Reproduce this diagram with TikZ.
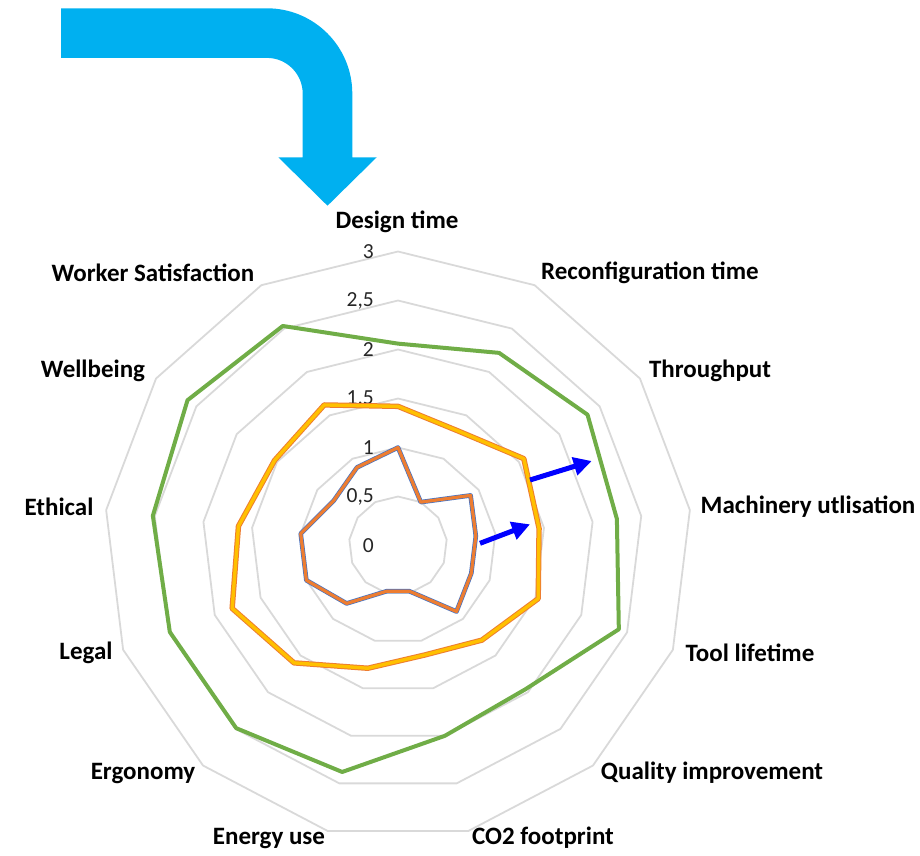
\documentclass[tikz,border=0pt]{standalone}
\usepackage{fontspec}
\setmainfont{Carlito}
\usetikzlibrary{arrows.meta}

\definecolor{gridgray}{HTML}{D9D9D9}
\definecolor{exgreen}{HTML}{70AD47}
\definecolor{exorange}{HTML}{ED7D31}
\definecolor{exblue}{HTML}{4472C4}
\definecolor{exyellow}{HTML}{FFC000}
\definecolor{bendcyan}{HTML}{00B0F0}
\definecolor{pureblue}{HTML}{0000FF}
\definecolor{ticktext}{HTML}{262626}

% centre of the radar and length of one unit on its scale
\newcommand\rcx{398}
\newcommand\rcy{545.5}
\newcommand\runit{98}

\begin{document}
\begin{tikzpicture}[x=1pt,y=-1pt,
  gridline/.style={draw=gridgray, line width=1.8pt, line join=round},
  catlabel/.style={font=\fontsize{25}{29}\selectfont\bfseries, text=black, inner sep=0pt},
  ticklabel/.style={font=\fontsize{21.5}{25}\selectfont, text=ticktext, anchor=east, inner sep=0pt},
  serie/.style={line join=round, line cap=round},
  shiftarrow/.style={draw=pureblue, line width=5pt, -{Triangle[length=18pt,width=18pt]}},
]
\useasboundingbox (0,0) rectangle (920,855);

% bent arrow at the top
\fill[bendcyan] (61,8.3) -- (267,8.3) arc[start angle=-90, end angle=0, radius=85.3]
  -- (352.3,157.3) -- (376.7,157.3) -- (327.5,205.7) -- (278.3,157.3) -- (302.7,157.3)
  -- (302.7,93.6) arc[start angle=0, end angle=-90, radius=35.7] -- (61,57.9) -- cycle;

% grid polygons
\foreach \lv in {0.5,1,1.5,2,2.5,3} {
  \draw[gridline] plot[samples at={0,...,12}]
    ({\rcx+\runit*\lv*sin(\x*360/13)},{\rcy-\runit*\lv*cos(\x*360/13)}) -- cycle;
}

% scale values
\foreach \lv/\txt [count=\n from 0] in {0/0,0.5/{0,5},1/1,1.5/{1,5},2/2,2.5/{2,5},3/3} {
  \node[ticklabel] (t\n) at (374,{\rcy-\runit*\lv}) {\txt};
}

% series coordinates
\foreach \v [count=\k from 0] in {1.0,0.5,0.9,0.8,0.8,0.9,0.48,0.48,0.79,1.0,1.0,0.8,0.9}
  \coordinate (a\k) at ({\rcx+\runit*\v*sin(\k*360/13)},{\rcy-\runit*\v*cos(\k*360/13)});
\foreach \v [count=\k from 0] in {1.42,1.32,1.56,1.45,1.53,1.29,1.15,1.29,1.6,1.81,1.64,1.53,1.62}
  \coordinate (b\k) at ({\rcx+\runit*\v*sin(\k*360/13)},{\rcy-\runit*\v*cos(\k*360/13)});
\foreach \v [count=\k from 0] in {2.06,2.22,2.35,2.25,2.41,1.96,2.0,2.38,2.49,2.49,2.52,2.61,2.53}
  \coordinate (c\k) at ({\rcx+\runit*\v*sin(\k*360/13)},{\rcy-\runit*\v*cos(\k*360/13)});

% series lines
\draw[serie, exblue, line width=4.6pt] (a0) \foreach \k in {1,...,12} {-- (a\k)} -- cycle;
\draw[serie, exorange, line width=3.2pt] (a0) \foreach \k in {1,...,12} {-- (a\k)} -- cycle;
\draw[serie, exorange, line width=5.4pt] (b0) \foreach \k in {1,...,12} {-- (b\k)} -- cycle;
\draw[serie, exyellow, line width=3.4pt] (b0) \foreach \k in {1,...,12} {-- (b\k)} -- cycle;
\draw[serie, exgreen, line width=4pt] (c0) \foreach \k in {1,...,12} {-- (c\k)} -- cycle;

% improvement arrows
\coordinate (p1) at (480,543.3);
\coordinate (q1) at (530,524.3);
\coordinate (p2) at (530,480);
\coordinate (q2) at (591.7,461);
\draw[shiftarrow] (p1) -- (q1);
\draw[shiftarrow] (p2) -- (q2);

% category labels
\node[catlabel] (design) at (397,222) {Design time};
\node[catlabel] (reconf) at (650,273) {Reconfiguration time};
\node[catlabel] (through) at (710,371) {Throughput};
\node[catlabel] (machine) at (808,507) {Machinery utlisation};
\node[catlabel] (tool) at (750,653) {Tool lifetime};
\node[catlabel] (quality) at (712,773) {Quality improvement};
\node[catlabel] (co2) at (543,838) {CO2 footprint};
\node[catlabel] (energy) at (269,838) {Energy use};
\node[catlabel] (ergo) at (143,773) {Ergonomy};
\node[catlabel] (legal) at (86,653) {Legal};
\node[catlabel] (ethical) at (59,507) {Ethical};
\node[catlabel] (wellbeing) at (93,371) {Wellbeing};
\node[catlabel] (worker) at (153,273) {Worker Satisfaction};
\end{tikzpicture}
\end{document}
